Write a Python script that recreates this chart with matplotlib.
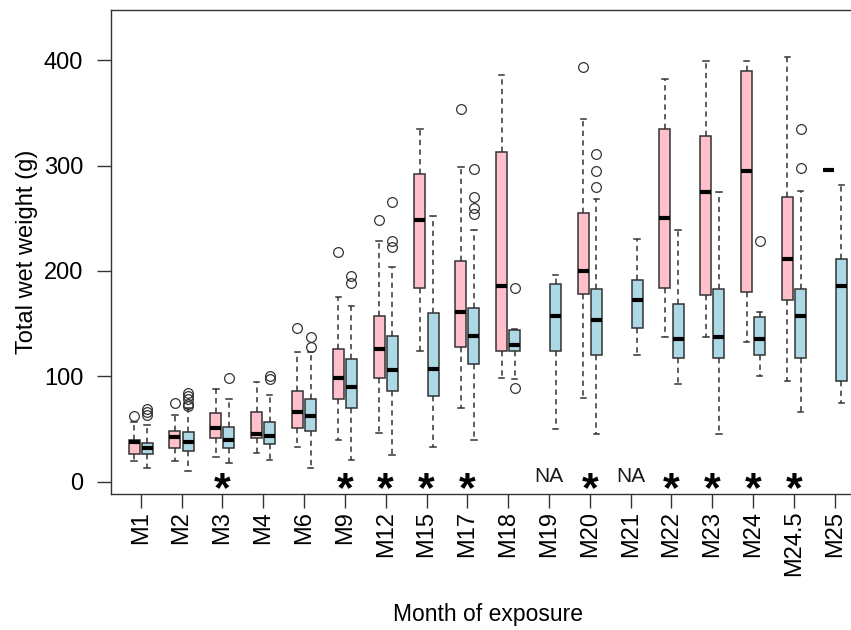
import matplotlib.pyplot as plt

plt.rcParams['font.family'] = ['Liberation Sans', 'DejaVu Sans']

months = ['M1', 'M2', 'M3', 'M4', 'M6', 'M9', 'M12', 'M15', 'M17', 'M18',
          'M19', 'M20', 'M21', 'M22', 'M23', 'M24', 'M24.5', 'M25']

# pink group: whisker low, Q1, median, Q3, whisker high (None = no data)
pink_lo = [20, 20, 23, 27, 33, 40, 46, 124, 70, 98, None, 79, None, 137, 137, 133, 96, 296]
pink_q1 = [26, 32, 41, 41, 51, 78, 98, 184, 128, 124, None, 178, None, 184, 177, 180, 172, 296]
pink_med = [38, 42, 51, 45, 66, 98, 126, 248, 161, 186, None, 200, None, 250, 275, 295, 211, 296]
pink_q3 = [40, 48, 65, 66, 86, 126, 157, 292, 209, 313, None, 255, None, 335, 328, 390, 270, 296]
pink_hi = [57, 63, 88, 95, 123, 175, 228, 335, 299, 386, None, 344, None, 382, 399, 399, 403, 296]
pink_out = [[62], [75], [], [], [146], [218], [248], [], [354], [],
            [], [394], [], [], [], [], [], []]

# blue group
blue_lo = [13, 10, 18, 21, 13, 21, 25, 33, 40, 97, 50, 45, 120, 93, 45, 100, 66, 75]
blue_q1 = [26, 29, 32, 36, 48, 70, 86, 81, 112, 124, 124, 120, 146, 117, 117, 120, 117, 96]
blue_med = [32, 38, 40, 43, 62, 90, 106, 107, 138, 130, 157, 153, 172, 135, 137, 135, 157, 186]
blue_q3 = [37, 47, 52, 57, 78, 116, 138, 160, 165, 144, 188, 183, 191, 169, 183, 156, 183, 211]
blue_hi = [54, 70, 78, 82, 123, 167, 204, 252, 239, 145, 196, 268, 230, 239, 275, 161, 276, 282]
blue_out = [[63, 66, 69], [72, 74, 78, 81, 84], [98], [97, 100], [128, 137],
            [189, 195], [223, 228, 265], [], [254, 260, 270, 297], [89, 184],
            [], [280, 295, 311], [], [], [], [228], [298, 335], []]

# significance marks under each month
sig = ['', '', '*', '', '', '*', '*', '*', '*', '', 'NA', '*', 'NA', '*', '*', '*', '*', '']

edge = '#333333'


def make_stats(lo, q1, med, q3, hi, out):
    stats, pos = [], []
    for i in range(len(months)):
        if med[i] is None:
            continue
        stats.append(dict(whislo=lo[i], q1=q1[i], med=med[i], q3=q3[i],
                          whishi=hi[i], fliers=out[i]))
        pos.append(i)
    return stats, pos


def draw(ax, stats, pos, color):
    ax.bxp(stats, positions=pos, widths=0.27, capwidths=0.135,
           patch_artist=True, manage_ticks=False,
           boxprops=dict(facecolor=color, edgecolor=edge, linewidth=1.1),
           medianprops=dict(color='black', linewidth=3, solid_capstyle='butt'),
           whiskerprops=dict(color=edge, linewidth=1.1, linestyle=(0, (3.5, 2.8))),
           capprops=dict(color=edge, linewidth=1.1),
           flierprops=dict(marker='o', markerfacecolor='none', markeredgecolor=edge,
                           markersize=7, markeredgewidth=0.9))


fig = plt.figure(figsize=(8.51, 6.30), dpi=100)
ax = fig.add_axes([111 / 851, 136 / 630, 753.5 / 851, 484 / 630])

ps, pp = make_stats(pink_lo, pink_q1, pink_med, pink_q3, pink_hi, pink_out)
bs, bp = make_stats(blue_lo, blue_q1, blue_med, blue_q3, blue_hi, blue_out)
draw(ax, ps, [p - 0.16 for p in pp], 'pink')
draw(ax, bs, [p + 0.16 for p in bp], 'lightblue')

for i, s in enumerate(sig):
    if s == '*':
        ax.annotate(s, (i, 5), xytext=(0, -0.58 * 31), textcoords='offset points',
                    ha='center', va='baseline', fontsize=31, fontweight='bold',
                    color='black')
    elif s == 'NA':
        ax.text(i, 5, s, ha='center', va='center', fontsize=15, color='#1a1a1a')

ax.set_xlim(-0.727, 17.727)
ax.set_ylim(-11.7, 447.7)
ax.set_xticks(range(len(months)), months, rotation=90)
ax.set_yticks([0, 100, 200, 300, 400])
ax.tick_params(axis='both', length=10, width=1, color=edge, labelsize=17)
ax.tick_params(axis='y', pad=10)
ax.tick_params(axis='x', pad=2)
for sp in ax.spines.values():
    sp.set_color(edge)
    sp.set_linewidth(1)

ax.set_ylabel('Total wet weight (g)', fontsize=17, labelpad=4)
ax.set_xlabel('Month of exposure', fontsize=16.5, labelpad=19)

fig.savefig('out.png', dpi=100)
